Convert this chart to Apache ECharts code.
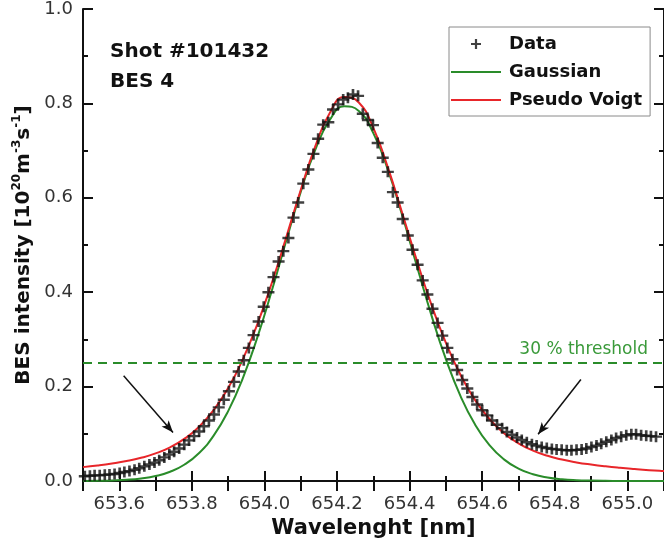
<!DOCTYPE html>
<html>
<head>
<meta charset="utf-8">
<script src="https://cdn.jsdelivr.net/npm/echarts@6/dist/echarts.min.js"></script>
<style>
  html, body { margin: 0; padding: 0; background: #fff; }
  #chart { width: 664px; height: 559px; }
</style>
</head>
<body>
<div id="chart"></div>
<script>
// Measured spectrum (wavelength in nm, intensity in 1e20 m^-3 s^-1)
const dataWavelength = [
  653.505, 653.519, 653.532, 653.546, 653.560, 653.573, 653.587, 653.601, 653.614, 653.628,
  653.642, 653.655, 653.669, 653.683, 653.697, 653.710, 653.724, 653.738, 653.751, 653.765,
  653.779, 653.792, 653.806, 653.820, 653.833, 653.847, 653.861, 653.874, 653.888, 653.902,
  653.916, 653.929, 653.943, 653.957, 653.970, 653.984, 653.998, 654.011, 654.025, 654.039,
  654.052, 654.066, 654.080, 654.093, 654.107, 654.121, 654.135, 654.148, 654.162, 654.176,
  654.189, 654.203, 654.217, 654.230, 654.244, 654.258, 654.271, 654.285, 654.299, 654.312,
  654.326, 654.340, 654.354, 654.367, 654.381, 654.395, 654.408, 654.422, 654.436, 654.449,
  654.463, 654.477, 654.490, 654.504, 654.518, 654.531, 654.545, 654.559, 654.573, 654.586,
  654.600, 654.614, 654.627, 654.641, 654.655, 654.668, 654.682, 654.696, 654.709, 654.723,
  654.737, 654.750, 654.764, 654.778, 654.792, 654.805, 654.819, 654.833, 654.846, 654.860,
  654.874, 654.887, 654.901, 654.915, 654.928, 654.942, 654.956, 654.969, 654.983, 654.997,
  655.011, 655.024, 655.038, 655.052, 655.065, 655.079
];
const dataIntensity = [
  0.010, 0.011, 0.012, 0.012, 0.013, 0.014, 0.015, 0.017, 0.019, 0.021,
  0.024, 0.027, 0.031, 0.035, 0.039, 0.044, 0.050, 0.056, 0.062, 0.069,
  0.077, 0.086, 0.095, 0.105, 0.116, 0.128, 0.141, 0.156, 0.172, 0.190,
  0.210, 0.232, 0.256, 0.282, 0.309, 0.338, 0.369, 0.400, 0.432, 0.465,
  0.487, 0.515, 0.558, 0.590, 0.630, 0.660, 0.693, 0.725, 0.755, 0.760,
  0.787, 0.798, 0.808, 0.812, 0.819, 0.816, 0.778, 0.765, 0.754, 0.716,
  0.685, 0.655, 0.612, 0.590, 0.555, 0.520, 0.490, 0.458, 0.425, 0.395,
  0.365, 0.335, 0.308, 0.282, 0.258, 0.235, 0.214, 0.196, 0.178, 0.162,
  0.150, 0.139, 0.128, 0.119, 0.112, 0.104, 0.098, 0.092, 0.087, 0.082,
  0.078, 0.075, 0.072, 0.070, 0.068, 0.067, 0.066, 0.065, 0.065, 0.066,
  0.067, 0.069, 0.072, 0.075, 0.079, 0.083, 0.087, 0.091, 0.094, 0.097,
  0.099, 0.099, 0.097, 0.096, 0.095, 0.094
];

// Fitted profiles sampled every 0.04 nm
const fitWavelength = [
  653.50, 653.54, 653.58, 653.62, 653.66, 653.70, 653.74, 653.78, 653.82, 653.86,
  653.90, 653.94, 653.98, 654.02, 654.06, 654.10, 654.14, 654.18, 654.22, 654.26,
  654.30, 654.34, 654.38, 654.42, 654.46, 654.50, 654.54, 654.58, 654.62, 654.66,
  654.70, 654.74, 654.78, 654.82, 654.86, 654.90, 654.94, 654.98, 655.02, 655.06,
  655.10, 655.14
];
const gaussianFit = [
  0.0002, 0.0005, 0.0012, 0.0025, 0.0053, 0.0104, 0.0196, 0.0349, 0.0594, 0.0961,
  0.1480, 0.2171, 0.3031, 0.4025, 0.5090, 0.6125, 0.7016, 0.7649, 0.7938, 0.7840,
  0.7371, 0.6596, 0.5618, 0.4555, 0.3514, 0.2581, 0.1805, 0.1200, 0.0760, 0.0458,
  0.0263, 0.0144, 0.0075, 0.0037, 0.0017, 0.0008, 0.0003, 0.0001, 0.0000, 0.0000,
  0.0000, 0.0000
];
const pseudoVoigtFit = [
  0.0294, 0.0328, 0.0370, 0.0422, 0.0491, 0.0585, 0.0714, 0.0897, 0.1151, 0.1501,
  0.1968, 0.2571, 0.3315, 0.4190, 0.5163, 0.6165, 0.7091, 0.7797, 0.8135, 0.8020,
  0.7481, 0.6645, 0.5666, 0.4668, 0.3738, 0.2925, 0.2252, 0.1719, 0.1313, 0.1013,
  0.0798, 0.0644, 0.0534, 0.0454, 0.0394, 0.0348, 0.0310, 0.0279, 0.0253, 0.0230,
  0.0211, 0.0194
];

// Axis ticks and annotations
const wavelengthTicks = [653.6, 653.8, 654.0, 654.2, 654.4, 654.6, 654.8, 655.0];
const wavelengthMinorTicks = [653.5, 653.7, 653.9, 654.1, 654.3, 654.5, 654.7, 654.9, 655.1];
const thresholdLevel = 0.246;
const leftArrow = [[653.612, 0.223], [653.748, 0.103]];
const rightArrow = [[654.872, 0.215], [654.754, 0.099]];

const FONT = "'DejaVu Sans', 'Liberation Sans', sans-serif";
const INK = '#111';
const GREEN = '#2a8c2a';
const RED = '#e8262a';
const PLUS = 'path://M0,3.9H10V6.1H0Z M3.9,0H6.1V10H3.9Z';
const BAR = 'path://M0,0H50V2H0Z';
const X_MIN = 653.5, X_MAX = 655.101;

const chart = echarts.init(document.getElementById('chart'), null, { renderer: 'canvas' });

const axisLineStyle = { color: INK, width: 2 };
const tickStyle = { color: INK, width: 2 };
const allWavelengthTicks = wavelengthTicks.concat(wavelengthMinorTicks).sort((a, b) => a - b);

chart.setOption({
  animation: false,
  backgroundColor: '#fff',
  title: {
    text: 'Shot #101432\nBES 4',
    left: 110, top: 37, padding: 0,
    textStyle: { fontFamily: FONT, fontWeight: 'bold', fontSize: 20, lineHeight: 30, color: INK }
  },
  legend: {
    orient: 'vertical',
    left: 449, top: 27,
    padding: [7, 8, 6, 2],
    itemGap: 8, itemWidth: 50, itemHeight: 10,
    borderColor: '#8a8a8a', borderWidth: 1,
    textStyle: { fontFamily: FONT, fontWeight: 'bold', fontSize: 18, lineHeight: 20, color: INK, padding: [0, 0, 0, 3] },
    data: [
      { name: 'Data', icon: PLUS },
      { name: 'Gaussian', icon: BAR },
      { name: 'Pseudo Voigt', icon: BAR }
    ]
  },
  grid: { left: 83, right: -6, top: 7, bottom: 78 },
  xAxis: [
    {
      // bottom axis: short minor ticks and the labels
      type: 'value', position: 'bottom', min: X_MIN, max: X_MAX,
      axisLine: { lineStyle: axisLineStyle },
      axisTick: { inside: true, length: 5, customValues: wavelengthMinorTicks, lineStyle: tickStyle },
      axisLabel: {
        customValues: wavelengthTicks,
        formatter: v => v.toFixed(1),
        margin: 14, fontFamily: FONT, fontSize: 18, color: '#333'
      },
      splitLine: { show: false },
      name: 'Wavelenght [nm]', nameLocation: 'middle', nameGap: 33,
      nameTextStyle: { fontFamily: FONT, fontWeight: 'bold', fontSize: 21, color: INK }
    },
    {
      // top frame
      type: 'value', position: 'top', min: X_MIN, max: X_MAX,
      axisLine: { lineStyle: axisLineStyle },
      axisTick: { inside: true, length: 10, customValues: allWavelengthTicks, lineStyle: tickStyle },
      axisLabel: { show: false },
      splitLine: { show: false }
    },
    {
      // bottom axis: long major ticks
      type: 'value', position: 'bottom', min: X_MIN, max: X_MAX,
      axisLine: { show: false },
      axisTick: { inside: true, length: 10, customValues: wavelengthTicks, lineStyle: tickStyle },
      axisLabel: { show: false },
      splitLine: { show: false }
    }
  ],
  yAxis: [
    {
      type: 'value', position: 'left', min: 0, max: 1, interval: 0.2,
      axisLine: { lineStyle: axisLineStyle },
      axisTick: { inside: true, length: 10, lineStyle: tickStyle },
      minorTick: { show: true, splitNumber: 2, length: 5, lineStyle: tickStyle },
      axisLabel: { formatter: v => v.toFixed(1), margin: 10, fontFamily: FONT, fontSize: 18, color: '#333' },
      splitLine: { show: false },
      name: '{b|BES intensity [10}{s|20}{b|m}{s|-3}{b|s}{s|-1}{b|]}',
      nameLocation: 'middle', nameGap: 39, nameRotate: 90,
      nameTextStyle: {
        rich: {
          b: { fontFamily: FONT, fontWeight: 'bold', fontSize: 20, lineHeight: 26, verticalAlign: 'middle', color: INK },
          s: { fontFamily: FONT, fontWeight: 'bold', fontSize: 12, lineHeight: 14, verticalAlign: 'top', color: INK }
        }
      }
    },
    {
      type: 'value', position: 'right', min: 0, max: 1, interval: 0.2,
      axisLine: { lineStyle: axisLineStyle },
      axisTick: { inside: true, length: 10, lineStyle: tickStyle },
      minorTick: { show: true, splitNumber: 2, length: 5, lineStyle: tickStyle },
      axisLabel: { show: false },
      splitLine: { show: false }
    }
  ],
  series: [
    {
      name: 'Data', type: 'scatter', z: 4,
      data: dataWavelength.map((x, i) => [x, dataIntensity[i]]),
      symbol: PLUS, symbolSize: [12, 11],
      itemStyle: { color: INK },
      markLine: {
        silent: true, animation: false,
        symbol: ['none', 'none'],
        data: [
          {
            yAxis: thresholdLevel,
            lineStyle: { type: [9, 6], color: GREEN, width: 2 },
            label: {
              show: true, position: 'insideEndTop', formatter: '30 % threshold',
              color: '#3a9a3a', fontFamily: FONT, fontSize: 17, distance: 5, padding: [0, 11, 0, 0]
            }
          },
          [
            { coord: leftArrow[0], symbol: 'none', lineStyle: { color: INK, width: 1.5, type: 'solid' }, label: { show: false } },
            { coord: leftArrow[1], symbol: 'arrow', symbolSize: [7, 12] }
          ],
          [
            { coord: rightArrow[0], symbol: 'none', lineStyle: { color: INK, width: 1.5, type: 'solid' }, label: { show: false } },
            { coord: rightArrow[1], symbol: 'arrow', symbolSize: [7, 12] }
          ]
        ]
      }
    },
    {
      name: 'Gaussian', type: 'line', z: 2,
      data: fitWavelength.map((x, i) => [x, gaussianFit[i]]),
      smooth: true, showSymbol: false, symbol: 'none',
      color: GREEN, itemStyle: { color: GREEN },
      lineStyle: { color: GREEN, width: 2 }
    },
    {
      name: 'Pseudo Voigt', type: 'line', z: 3,
      data: fitWavelength.map((x, i) => [x, pseudoVoigtFit[i]]),
      smooth: true, showSymbol: false, symbol: 'none',
      color: RED, itemStyle: { color: RED },
      lineStyle: { color: RED, width: 2 }
    }
  ]
});
</script>
</body>
</html>
